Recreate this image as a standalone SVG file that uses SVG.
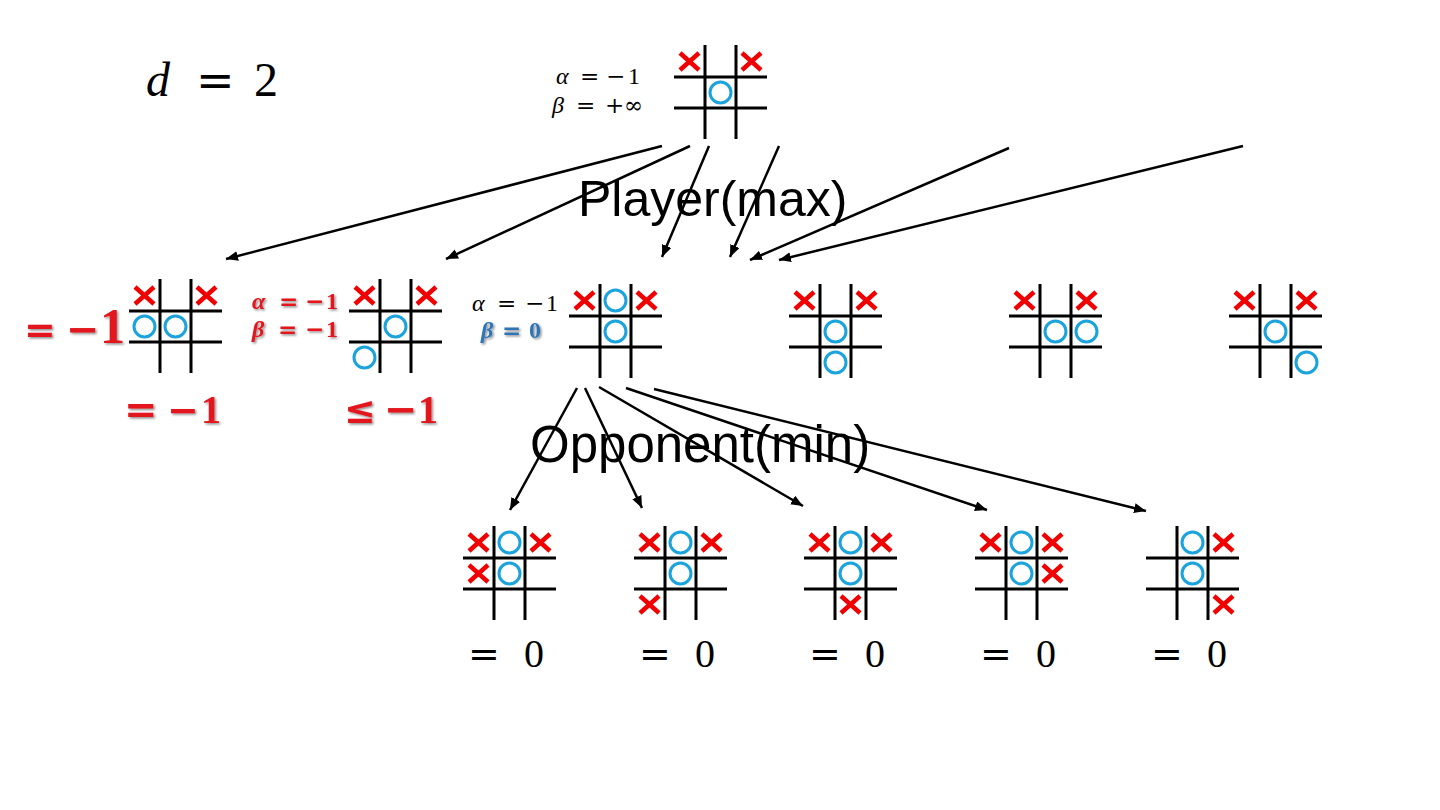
<svg xmlns="http://www.w3.org/2000/svg" xmlns:xlink="http://www.w3.org/1999/xlink" width="1440" height="810" viewBox="0 0 1440 810">
<style>
.serif{font-family:"Liberation Serif","DejaVu Serif",serif}
.sans{font-family:"Liberation Sans",Arial,sans-serif}
.op{font-family:"DejaVu Serif","Liberation Serif",serif}
.it{font-style:italic}
.b{font-weight:bold}
.red{fill:#e2161b}
.blue{fill:#2e75b6}
.conn{stroke:#000;stroke-width:2.5;fill:none;marker-end:url(#ah)}
</style>
<defs>
<g id="grid"><path d="M31,-1V93M62,-1V93M0,31H93M0,62H93" stroke="#000" stroke-width="3" fill="none"/></g>
<path id="xm" d="M-9.5,-8.5L9.5,8.5M9.5,-8.5L-9.5,8.5" stroke="#f00000" stroke-width="4.5" fill="none"/>
<circle id="om" r="10.5" fill="none" stroke="#1aa3dd" stroke-width="3"/>
<marker id="ah" markerUnits="userSpaceOnUse" markerWidth="14" markerHeight="12" refX="12" refY="5" orient="auto">
<path d="M0,0L12,5L0,10Z" fill="#000"/>
</marker>
<filter id="sh" x="-10%" y="-10%" width="130%" height="140%"><feDropShadow dx="1.5" dy="1.5" stdDeviation="0.8" flood-color="#000" flood-opacity="0.45"/></filter>
</defs>
<rect width="1440" height="810" fill="#fff"/>

<text class="serif" font-size="48" y="96"><tspan x="146" class="it">d</tspan><tspan x="196" class="op" font-size="46">=</tspan><tspan x="254">2</tspan></text>

<text class="sans" font-size="50" x="578" y="216">Player(max)</text>
<text class="sans" font-size="51" x="530" y="462">Opponent(min)</text>

<g id="root">
<use href="#grid" x="674" y="46"/>
<use href="#xm" x="689.5" y="61.5"/><use href="#xm" x="751.5" y="61.5"/>
<use href="#om" x="720.5" y="92.5"/>
<text class="serif" font-size="24" y="84"><tspan x="556" class="it">α</tspan><tspan x="580" class="op" font-size="23">=</tspan><tspan x="606" class="op" font-size="23">−</tspan><tspan x="628">1</tspan></text>
<text class="serif" font-size="24" y="113"><tspan x="552" class="it">β</tspan><tspan x="576" class="op" font-size="23">=</tspan><tspan x="605" class="op" font-size="23">+</tspan><tspan x="624" class="op" font-size="23">∞</tspan></text>
</g>

<g id="nodeA">
<use href="#grid" x="129" y="280"/>
<use href="#xm" x="144.5" y="295.5"/><use href="#xm" x="206.5" y="295.5"/>
<use href="#om" x="144.5" y="326.5"/><use href="#om" x="175.5" y="326.5"/>
<text class="serif b red" font-size="50" y="343" filter="url(#sh)"><tspan x="24" class="op" font-size="38">=</tspan><tspan x="66" class="op" font-size="40">−</tspan><tspan x="100">1</tspan></text>
<text class="serif b red" font-size="40" y="423" filter="url(#sh)"><tspan x="124" class="op" font-size="40">=</tspan><tspan x="167" class="op" font-size="38">−</tspan><tspan x="201">1</tspan></text>
</g>

<g id="nodeB">
<use href="#grid" x="349" y="280"/>
<use href="#xm" x="364.5" y="295.5"/><use href="#xm" x="426.5" y="295.5"/>
<use href="#om" x="395.5" y="326.5"/><use href="#om" x="364.5" y="357.5"/>
<text class="serif b red" font-size="24" y="309" filter="url(#sh)"><tspan x="252" class="it">α</tspan><tspan x="279" class="op" font-size="23">=</tspan><tspan x="305" class="op" font-size="23">−</tspan><tspan x="326">1</tspan></text>
<text class="serif b red" font-size="24" y="337" filter="url(#sh)"><tspan x="252" class="it">β</tspan><tspan x="278" class="op" font-size="23">=</tspan><tspan x="305" class="op" font-size="23">−</tspan><tspan x="326">1</tspan></text>
<text class="serif b red" font-size="40" y="423" filter="url(#sh)"><tspan x="344" class="op" font-size="38">≤</tspan><tspan x="384" class="op" font-size="40">−</tspan><tspan x="418">1</tspan></text>
</g>

<g id="nodeC">
<use href="#grid" x="569" y="285"/>
<use href="#xm" x="584.5" y="300.5"/><use href="#om" x="615.5" y="300.5"/><use href="#xm" x="646.5" y="300.5"/>
<use href="#om" x="615.5" y="331.5"/>
<text class="serif" font-size="24" y="311"><tspan x="472" class="it">α</tspan><tspan x="497" class="op" font-size="23">=</tspan><tspan x="525" class="op" font-size="23">−</tspan><tspan x="546">1</tspan></text>
<text class="serif b blue" font-size="24" y="338" filter="url(#sh)"><tspan x="481" class="it">β</tspan><tspan x="502" class="op" font-size="23">=</tspan><tspan x="529">0</tspan></text>
</g>

<g id="nodeD">
<use href="#grid" x="789" y="285"/>
<use href="#xm" x="804.5" y="300.5"/><use href="#xm" x="866.5" y="300.5"/>
<use href="#om" x="835.5" y="331.5"/><use href="#om" x="835.5" y="362.5"/>
</g>

<g id="nodeE">
<use href="#grid" x="1009" y="285"/>
<use href="#xm" x="1024.5" y="300.5"/><use href="#xm" x="1086.5" y="300.5"/>
<use href="#om" x="1055.5" y="331.5"/><use href="#om" x="1086.5" y="331.5"/>
</g>

<g id="nodeF">
<use href="#grid" x="1229" y="285"/>
<use href="#xm" x="1244.5" y="300.5"/><use href="#xm" x="1306.5" y="300.5"/>
<use href="#om" x="1275.5" y="331.5"/><use href="#om" x="1306.5" y="362.5"/>
</g>

<g id="nodeG">
<use href="#grid" x="463" y="527"/>
<use href="#xm" x="478.5" y="542.5"/><use href="#om" x="509.5" y="542.5"/><use href="#xm" x="540.5" y="542.5"/>
<use href="#xm" x="478.5" y="573.5"/><use href="#om" x="509.5" y="573.5"/>
<text class="serif" font-size="40" y="667"><tspan x="468" class="op" font-size="38">=</tspan><tspan x="524">0</tspan></text>
</g>

<g id="nodeH">
<use href="#grid" x="634" y="527"/>
<use href="#xm" x="649.5" y="542.5"/><use href="#om" x="680.5" y="542.5"/><use href="#xm" x="711.5" y="542.5"/>
<use href="#om" x="680.5" y="573.5"/><use href="#xm" x="649.5" y="604.5"/>
<text class="serif" font-size="40" y="667"><tspan x="639" class="op" font-size="38">=</tspan><tspan x="695">0</tspan></text>
</g>

<g id="nodeI">
<use href="#grid" x="804" y="527"/>
<use href="#xm" x="819.5" y="542.5"/><use href="#om" x="850.5" y="542.5"/><use href="#xm" x="881.5" y="542.5"/>
<use href="#om" x="850.5" y="573.5"/><use href="#xm" x="850.5" y="604.5"/>
<text class="serif" font-size="40" y="667"><tspan x="809" class="op" font-size="38">=</tspan><tspan x="865">0</tspan></text>
</g>

<g id="nodeJ">
<use href="#grid" x="975" y="527"/>
<use href="#xm" x="990.5" y="542.5"/><use href="#om" x="1021.5" y="542.5"/><use href="#xm" x="1052.5" y="542.5"/>
<use href="#om" x="1021.5" y="573.5"/><use href="#xm" x="1052.5" y="573.5"/>
<text class="serif" font-size="40" y="667"><tspan x="980" class="op" font-size="38">=</tspan><tspan x="1036">0</tspan></text>
</g>

<g id="nodeK">
<use href="#grid" x="1146" y="527"/>
<use href="#om" x="1192.5" y="542.5"/><use href="#xm" x="1223.5" y="542.5"/>
<use href="#om" x="1192.5" y="573.5"/><use href="#xm" x="1223.5" y="604.5"/>
<text class="serif" font-size="40" y="667"><tspan x="1151" class="op" font-size="38">=</tspan><tspan x="1207">0</tspan></text>
</g>

<g id="connectors">
<line class="conn" x1="662" y1="146" x2="226" y2="259"/>
<line class="conn" x1="690" y1="146" x2="446" y2="259"/>
<line class="conn" x1="709" y1="146" x2="662" y2="257"/>
<line class="conn" x1="779" y1="146" x2="730" y2="257"/>
<line class="conn" x1="1009" y1="148" x2="750" y2="260"/>
<line class="conn" x1="1243" y1="146" x2="779" y2="260"/>
<line class="conn" x1="577" y1="388" x2="510" y2="510"/>
<line class="conn" x1="585" y1="388" x2="642" y2="508"/>
<line class="conn" x1="599" y1="387" x2="803" y2="506"/>
<line class="conn" x1="626" y1="388" x2="987" y2="510"/>
<line class="conn" x1="654" y1="389" x2="1146" y2="511"/>
</g>
</svg>
